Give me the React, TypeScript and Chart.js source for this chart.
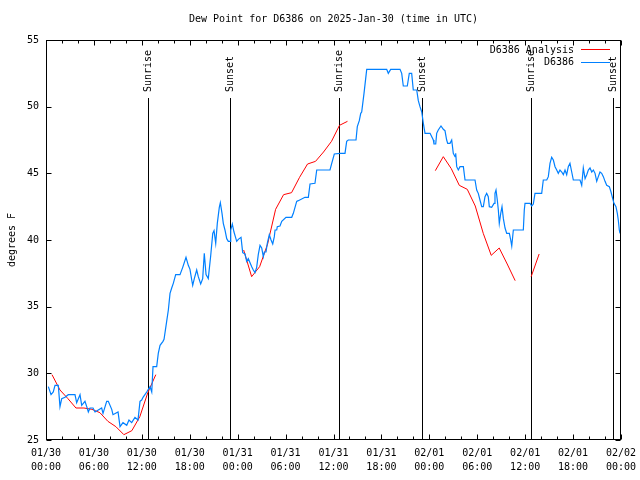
import React, { useEffect, useRef } from 'react';
import { Chart, registerables } from 'chart.js';

Chart.register(...registerables);

const TITLE = 'Dew Point for D6386 on 2025-Jan-30 (time in UTC)';
const Y_TITLE = 'degrees F';
const FONT_FAMILY = '"DejaVu Sans Mono", "Liberation Mono", monospace';

const xTickDates = ['01/30', '01/30', '01/30', '01/30', '01/31', '01/31', '01/31', '01/31', '02/01', '02/01', '02/01', '02/01', '02/02'];
const xTickTimes = ['00:00', '06:00', '12:00', '18:00', '00:00', '06:00', '12:00', '18:00', '00:00', '06:00', '12:00', '18:00', '00:00'];
const yTicks = [25, 30, 35, 40, 45, 50, 55];

// hours since 2025-01-30 00:00 UTC
const sunTimes = [12.8, 23.03, 36.75, 47.05, 60.73, 71.04];
const sunLabels = ['Sunrise', 'Sunset', 'Sunrise', 'Sunset', 'Sunrise', 'Sunset'];

// D6386 observations: [hour, dew point F]
const d6386Obs: [number, number][] = [
  [0.29, 29.0], [0.63, 28.4], [0.91, 28.6], [1.13, 29.1], [1.54, 29.1], [1.75, 27.5], [1.97, 28.1], [2.38, 28.2], [2.79, 28.4], [3.63, 28.4],
  [3.84, 27.8], [4.26, 28.4], [4.47, 27.6], [4.88, 27.9], [5.10, 27.5], [5.30, 27.1], [5.51, 27.4], [5.89, 27.4], [6.14, 27.1], [6.97, 27.4],
  [7.14, 27.0], [7.60, 27.9], [7.80, 27.9], [8.23, 27.3], [8.39, 26.9], [9.02, 27.1], [9.27, 26.0], [9.64, 26.3], [10.11, 26.1], [10.39, 26.5],
  [10.73, 26.3], [11.14, 26.7], [11.52, 26.5], [11.77, 27.9], [11.98, 28.0], [12.15, 28.2], [12.61, 28.6], [13.02, 29.0], [13.24, 28.6], [13.40, 30.5],
  [13.86, 30.5], [14.06, 31.5], [14.28, 32.1], [14.65, 32.4], [14.78, 32.55], [15.11, 33.9], [15.32, 34.75], [15.53, 36.0], [15.74, 36.4], [15.94, 36.75],
  [16.24, 37.4], [16.78, 37.4], [17.12, 37.95], [17.53, 38.7], [17.82, 38.1], [18.03, 37.8], [18.25, 37.0], [18.37, 36.6], [18.57, 37.1], [18.87, 37.75],
  [19.07, 37.25], [19.37, 36.7], [19.62, 37.1], [19.82, 39.0], [20.04, 37.4], [20.32, 37.1], [20.62, 38.8], [20.88, 40.5], [21.04, 40.7], [21.25, 39.75],
  [21.45, 41.25], [21.70, 42.45], [21.83, 42.8], [22.04, 42.0], [22.20, 41.25], [22.41, 40.75], [22.63, 40.1], [22.83, 39.9], [23.04, 39.9], [23.13, 40.75],
  [23.33, 41.2], [23.54, 40.6], [23.88, 39.9], [24.08, 40.05], [24.42, 40.2], [24.63, 39.05], [24.92, 38.95], [25.13, 38.4], [25.33, 38.6], [25.76, 38.0],
  [25.96, 37.75], [26.17, 37.55], [26.38, 37.95], [26.58, 38.9], [26.80, 39.6], [27.01, 39.4], [27.21, 38.75], [27.34, 39.1], [27.55, 39.1], [27.71, 39.75],
  [27.96, 40.4], [28.18, 40.0], [28.39, 39.7], [28.59, 40.25], [28.68, 40.75], [28.89, 40.75], [28.96, 41.0], [29.30, 41.05], [29.52, 41.4], [30.05, 41.7],
  [30.77, 41.7], [30.97, 42.0], [31.39, 42.9], [31.59, 42.95], [32.43, 43.2], [32.85, 43.2], [33.06, 44.2], [33.68, 44.25], [33.90, 45.25], [35.56, 45.25],
  [35.78, 45.75], [36.10, 46.45], [36.81, 46.5], [37.44, 46.5], [37.65, 47.4], [37.85, 47.5], [38.82, 47.5], [38.98, 48.5], [39.23, 48.95], [39.41, 49.5],
  [39.53, 49.6], [39.82, 51.0], [40.16, 52.8], [42.66, 52.8], [42.86, 52.5], [43.16, 52.8], [44.33, 52.8], [44.54, 52.5], [44.74, 51.55], [45.24, 51.55],
  [45.49, 52.5], [45.79, 52.5], [45.99, 51.25], [46.42, 51.25], [46.62, 50.45], [46.83, 50.0], [47.05, 49.6], [47.25, 48.75], [47.46, 48.0], [48.09, 48.0],
  [48.50, 47.5], [48.58, 47.2], [48.80, 47.2], [48.92, 48.0], [49.12, 48.25], [49.46, 48.55], [49.75, 48.3], [49.96, 48.2], [50.17, 47.5], [50.30, 47.25],
  [50.59, 47.25], [50.80, 47.5], [51.00, 46.5], [51.22, 46.25], [51.30, 46.5], [51.43, 45.5], [51.63, 45.25], [51.84, 45.5], [52.26, 45.5], [52.47, 44.5],
  [53.72, 44.5], [53.93, 43.75], [54.13, 43.5], [54.34, 43.0], [54.56, 42.5], [54.76, 42.5], [54.97, 43.25], [55.18, 43.5], [55.38, 43.25], [55.51, 42.5],
  [55.81, 42.45], [56.10, 42.75], [56.22, 43.5], [56.35, 43.75], [56.51, 43.0], [56.64, 42.25], [56.76, 41.25], [56.94, 42.0], [57.10, 42.5], [57.27, 41.6],
  [57.48, 40.9], [57.69, 40.5], [58.02, 40.5], [58.19, 40.0], [58.32, 39.55], [58.52, 40.75], [59.77, 40.75], [59.89, 42.25], [59.98, 42.75], [60.61, 42.75],
  [60.82, 42.55], [61.02, 42.7], [61.23, 43.5], [62.07, 43.5], [62.27, 44.5], [62.70, 44.5], [62.90, 44.75], [63.11, 45.75], [63.32, 46.2], [63.53, 46.0],
  [63.74, 45.5], [63.95, 45.25], [64.15, 45.0], [64.36, 45.25], [64.58, 45.1], [64.78, 44.9], [64.99, 45.25], [65.20, 44.9], [65.40, 45.5], [65.61, 45.75],
  [65.83, 45.1], [66.03, 44.5], [66.87, 44.5], [67.08, 44.1], [67.28, 45.4], [67.50, 44.6], [67.71, 44.9], [67.91, 45.25], [68.12, 45.4], [68.34, 45.1],
  [68.54, 45.25], [68.75, 45.0], [68.96, 44.4], [69.16, 44.75], [69.37, 45.1], [69.58, 45.0], [69.79, 44.75], [70.00, 44.4], [70.21, 44.1], [70.54, 44.0],
  [70.75, 43.6], [70.96, 43.1], [71.12, 42.75], [71.37, 42.5], [71.54, 42.0], [71.66, 41.5], [71.79, 40.75], [71.87, 40.5],
];

// D6386 Analysis: hourly runs (start hour, values)
const analysisStarts = [0.75, 24.75, 48.75, 60.75];
const analysisRun1 = [29.9, 28.75, 28.1, 27.4, 27.4, 27.3, 27.05, 26.4, 26.0, 25.4, 25.7, 26.75, 28.55, 29.9];
const analysisRun2 = [39.25, 37.25, 38.0, 39.7, 42.3, 43.4, 43.55, 44.7, 45.7, 45.9, 46.6, 47.4, 48.6, 48.9];
const analysisRun3 = [45.2, 46.25, 45.35, 44.1, 43.8, 42.55, 40.5, 38.85, 39.4, 38.2, 36.95];
const analysisRun4 = [37.25, 38.95];
const analysisRuns = [analysisRun1, analysisRun2, analysisRun3, analysisRun4];

const RED = '#ff0000';
const BLUE = '#0080ff';

function buildAnalysis() {
  const pts: { x: number; y: number | null }[] = [];
  analysisRuns.forEach((run, r) => {
    if (r > 0) pts.push({ x: analysisStarts[r] - 0.5, y: null });
    run.forEach((v, i) => pts.push({ x: analysisStarts[r] + i, y: v }));
  });
  return pts;
}

const decorPlugin = {
  id: 'decor',
  beforeDatasetsDraw(chart: any) {
    const { ctx, chartArea: a, scales } = chart;
    const x = scales.x;
    ctx.save();
    ctx.strokeStyle = '#000';
    ctx.lineWidth = 1;
    ctx.fillStyle = '#000';
    ctx.font = `10px ${FONT_FAMILY}`;
    sunTimes.forEach((t, i) => {
      const px = Math.round(x.getPixelForValue(t)) + 0.5;
      ctx.beginPath();
      ctx.moveTo(px, a.top + 58);
      ctx.lineTo(px, a.bottom);
      ctx.stroke();
      ctx.save();
      ctx.translate(px, a.top + 52);
      ctx.rotate(-Math.PI / 2);
      ctx.textAlign = 'left';
      ctx.textBaseline = 'middle';
      ctx.fillText(sunLabels[i], 0, 0);
      ctx.restore();
    });
    ctx.restore();
  },
  afterDraw(chart: any) {
    const { ctx, chartArea: a, scales } = chart;
    const x = scales.x;
    const y = scales.y;
    ctx.save();
    ctx.strokeStyle = '#000';
    ctx.lineWidth = 1;
    const L = a.left + 0.5;
    const R = a.right - 0.5;
    const T = a.top + 0.5;
    const B = a.bottom - 0.5;
    ctx.strokeRect(L, T, R - L, B - T);
    ctx.beginPath();
    for (let h = 0; h <= 72; h += 2) {
      const px = Math.round(x.getPixelForValue(h)) + 0.5;
      const len = h % 6 === 0 ? 5 : 3;
      ctx.moveTo(px, B);
      ctx.lineTo(px, B - len);
      ctx.moveTo(px, T);
      ctx.lineTo(px, T + len);
    }
    yTicks.forEach((v) => {
      const py = Math.round(y.getPixelForValue(v)) + 0.5;
      ctx.moveTo(L, py);
      ctx.lineTo(L + 5, py);
      ctx.moveTo(R, py);
      ctx.lineTo(R - 5, py);
    });
    ctx.stroke();

    ctx.fillStyle = '#000';
    ctx.font = `10px ${FONT_FAMILY}`;
    ctx.textAlign = 'center';
    ctx.textBaseline = 'middle';
    ctx.fillText(TITLE, (a.left + a.right) / 2, 19);

    ctx.save();
    ctx.translate(12, (a.top + a.bottom) / 2);
    ctx.rotate(-Math.PI / 2);
    ctx.fillText(Y_TITLE, 0, 0);
    ctx.restore();

    // legend
    const ds = chart.data.datasets;
    const order = [1, 0];
    order.forEach((di: number, k: number) => {
      const d = ds[di];
      const ly = a.top + 10 + k * 12.5;
      ctx.textAlign = 'right';
      ctx.fillStyle = '#000';
      ctx.fillText(d.label, 574, ly);
      ctx.strokeStyle = d.borderColor;
      ctx.beginPath();
      ctx.moveTo(581, Math.round(ly) - 0.5);
      ctx.lineTo(610, Math.round(ly) - 0.5);
      ctx.stroke();
    });
    ctx.restore();
  },
};

export default function App() {
  const ref = useRef<HTMLCanvasElement | null>(null);
  useEffect(() => {
    document.body.style.margin = '0';
    const canvas = ref.current;
    if (!canvas) return;
    const chart = new Chart(canvas, {
      type: 'line',
      data: {
        datasets: [
          {
            label: 'D6386',
            data: d6386Obs.map(([t, v]) => ({ x: t, y: v })),
            borderColor: BLUE,
            borderWidth: 1.2,
            pointRadius: 0,
            tension: 0,
            fill: false,
          },
          {
            label: 'D6386 Analysis',
            data: buildAnalysis(),
            borderColor: RED,
            borderWidth: 1,
            pointRadius: 0,
            tension: 0,
            spanGaps: false,
            fill: false,
          },
        ],
      },
      options: {
        animation: false,
        responsive: false,
        devicePixelRatio: 1,
        layout: { padding: { top: 40, right: 19, left: 0, bottom: 0 } },
        plugins: {
          legend: { display: false },
          title: { display: false },
          tooltip: { enabled: false },
        },
        scales: {
          x: {
            type: 'linear',
            min: 0,
            max: 72,
            grid: { display: false, drawTicks: false },
            border: { display: false },
            afterFit: (s: any) => {
              s.height = 40;
              s.paddingLeft = 0;
              s.paddingRight = 0;
            },
            afterBuildTicks: (s: any) => {
              s.ticks = xTickDates.map((_, i) => ({ value: i * 6 }));
            },
            ticks: {
              autoSkip: false,
              maxRotation: 0,
              minRotation: 0,
              padding: 6,
              color: '#000',
              font: { family: FONT_FAMILY, size: 10, lineHeight: 1.4 },
              callback: (_v: any, i: number) => [xTickDates[i], xTickTimes[i]],
            },
          },
          y: {
            type: 'linear',
            min: 25,
            max: 55,
            grid: { display: false, drawTicks: false },
            border: { display: false },
            afterFit: (s: any) => {
              s.width = 46;
              s.paddingTop = 0;
              s.paddingBottom = 0;
            },
            afterBuildTicks: (s: any) => {
              s.ticks = yTicks.map((v) => ({ value: v }));
            },
            ticks: {
              padding: 7,
              color: '#000',
              font: { family: FONT_FAMILY, size: 10 },
              callback: (v: any) => String(v),
            },
          },
        },
      },
      plugins: [decorPlugin],
    } as any);
    return () => chart.destroy();
  }, []);
  return (
    <div style={{ width: 640, height: 480, background: '#fff' }}>
      <canvas ref={ref} width={640} height={480} style={{ display: 'block', width: 640, height: 480 }} />
    </div>
  );
}
